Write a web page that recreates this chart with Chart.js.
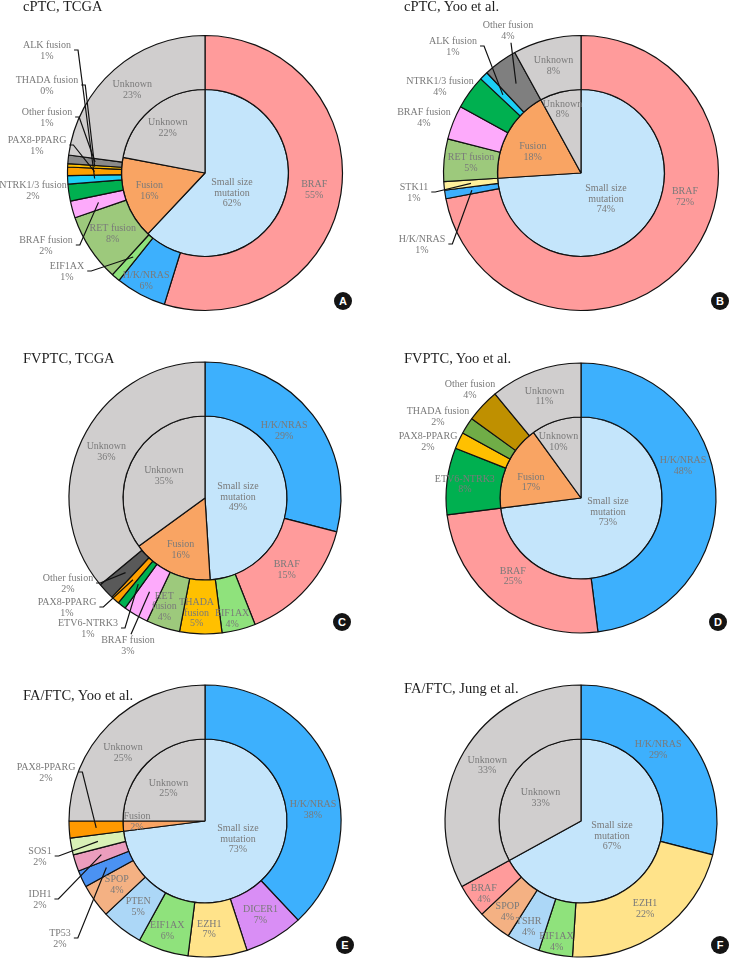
<!DOCTYPE html>
<html>
<head>
<meta charset="utf-8">
<script src="https://cdn.jsdelivr.net/npm/chart.js@4/dist/chart.umd.min.js"></script>
<style>
  body { margin: 0; background: #fff; width: 730px; height: 958px; position: relative; overflow: hidden; font-family: "Liberation Serif", "Times New Roman", serif; }
  canvas { position: absolute; }
  .title { position: absolute; font-size: 14.5px; line-height: 14.5px; color: #1e1e1e; white-space: nowrap; }
  .badge { position: absolute; width: 18px; height: 18px; border-radius: 50%; background: #141414; color: #fff;
           font: bold 11px "Liberation Sans", Arial, sans-serif; text-align: center; line-height: 18px; }
  .probe { position: absolute; left: -100px; top: -100px; font-size: 10px; }
</style>
</head>
<body>
<div class="probe">Unknown 1%</div>
<script>
// ---- data (percent of cases) ----
// A: cPTC, TCGA
const aOuterNames = ["BRAF", "H/K/NRAS", "EIF1AX", "RET fusion", "BRAF fusion", "NTRK1/3 fusion", "ALK fusion", "PAX8-PPARG", "THADA fusion", "Other fusion", "Unknown"];
const aOuterValues = [55, 6, 1, 8, 2, 2, 1, 1, 0.4, 1, 23];
const aInnerNames = ["Small size mutation", "Fusion", "Unknown"];
const aInnerValues = [62, 16, 22];

// B: cPTC, Yoo et al.
const bOuterNames = ["BRAF", "H/K/NRAS", "STK11", "RET fusion", "BRAF fusion", "NTRK1/3 fusion", "ALK fusion", "Other fusion", "Unknown"];
const bOuterValues = [72, 1, 1, 5, 4, 4, 1, 4, 8];
const bInnerNames = ["Small size mutation", "Fusion", "Unknown"];
const bInnerValues = [74, 18, 8];

// C: FVPTC, TCGA
const cOuterNames = ["H/K/NRAS", "BRAF", "EIF1AX", "THADA fusion", "RET fusion", "BRAF fusion", "ETV6-NTRK3", "PAX8-PPARG", "Other fusion", "Unknown"];
const cOuterValues = [29, 15, 4, 5, 4, 3, 1, 1, 2, 36];
const cInnerNames = ["Small size mutation", "Fusion", "Unknown"];
const cInnerValues = [49, 16, 35];

// D: FVPTC, Yoo et al.
const dOuterNames = ["H/K/NRAS", "BRAF", "ETV6-NTRK3", "PAX8-PPARG", "THADA fusion", "Other fusion", "Unknown"];
const dOuterValues = [48, 25, 8, 2, 2, 4, 11];
const dInnerNames = ["Small size mutation", "Fusion", "Unknown"];
const dInnerValues = [73, 17, 10];

// E: FA/FTC, Yoo et al.
const eOuterNames = ["H/K/NRAS", "DICER1", "EZH1", "EIF1AX", "PTEN", "SPOP", "TP53", "IDH1", "SOS1", "PAX8-PPARG", "Unknown"];
const eOuterValues = [38, 7, 7, 6, 5, 4, 2, 2, 2, 2, 25];
const eInnerNames = ["Small size mutation", "Fusion", "Unknown"];
const eInnerValues = [73, 2, 25];

// F: FA/FTC, Jung et al.
const fOuterNames = ["H/K/NRAS", "EZH1", "EIF1AX", "TSHR", "SPOP", "BRAF", "Unknown"];
const fOuterValues = [29, 22, 4, 4, 4, 4, 33];
const fInnerNames = ["Small size mutation", "Unknown"];
const fInnerValues = [67, 33];

// ---- colours ----
const baseColors = {
  "BRAF": "#ff9b9b", "H/K/NRAS": "#3db0fd", "EIF1AX": "#8fe27c", "RET fusion": "#9dc97c",
  "BRAF fusion": "#fdaafb", "NTRK1/3 fusion": "#00b050", "ETV6-NTRK3": "#00b050", "ALK fusion": "#1ccff5",
  "PAX8-PPARG": "#ffa000", "THADA fusion": "#ffc000", "Other fusion": "#7f7f7f", "Unknown": "#d0cece",
  "STK11": "#fff19c", "DICER1": "#d98ef5", "EZH1": "#ffe38a", "PTEN": "#acd7f7", "SPOP": "#f4b183",
  "TP53": "#4b92f2", "IDH1": "#eb9dbd", "SOS1": "#d9f1b6", "TSHR": "#acd7f7",
  "Small size mutation": "#c4e5fb", "Fusion": "#f9a463"
};

// ---- label layout (offsets from pie centre, px) ----
const aOuterLayout = {
  "H/K/NRAS": { nudge: [-7, 10] },
  "EIF1AX": { at: [-138, 99], hook: "right" },
  "BRAF fusion": { at: [-159, 73], hook: "right" },
  "NTRK1/3 fusion": { at: [-172, 18] },
  "ALK fusion": { at: [-158, -122], hook: "right" },
  "PAX8-PPARG": { at: [-168, -27], hook: "right" },
  "THADA fusion": { at: [-158, -87], hook: "right" },
  "Other fusion": { at: [-158, -55], hook: "right" }
};
const aInnerLayout = { "Small size mutation": { at: [27, 20], wrap: true } };

const bOuterLayout = {
  "BRAF": { at: [104, 24] },
  "H/K/NRAS": { at: [-159, 72], hook: "right" },
  "STK11": { at: [-167, 20], hook: "right" },
  "BRAF fusion": { at: [-157, -55] },
  "NTRK1/3 fusion": { at: [-141, -86] },
  "ALK fusion": { at: [-128, -126], hook: "right" },
  "Other fusion": { at: [-73, -142], hook: "bottom" }
};
const bInnerLayout = { "Small size mutation": { at: [25, 26], wrap: true }, "Fusion": { nudge: [3, 7] }, "Unknown": { nudge: [-4, -7] } };

const cOuterLayout = {
  "H/K/NRAS": { nudge: [-7, 0] },
  "EIF1AX": { nudge: [0, 15] },
  "THADA fusion": { nudge: [-5, 6], wrap: true },
  "RET fusion": { nudge: [-7, 5], wrap: true },
  "BRAF fusion": { at: [-77, 148], hook: "top" },
  "ETV6-NTRK3": { at: [-117, 131], hook: "right" },
  "PAX8-PPARG": { at: [-138, 110], hook: "right" },
  "Other fusion": { at: [-137, 86], hook: "right" }
};
const cInnerLayout = { "Small size mutation": { at: [33, -1], wrap: true }, "Unknown": { nudge: [10, 4] } };

const dOuterLayout = {
  "H/K/NRAS": { at: [102, -32] },
  "BRAF": { nudge: [-2, -7] },
  "ETV6-NTRK3": { nudge: [-9, 0] },
  "PAX8-PPARG": { at: [-153, -56] },
  "THADA fusion": { at: [-143, -81] },
  "Other fusion": { at: [-111, -108] }
};
const dInnerLayout = { "Small size mutation": { at: [27, 14], wrap: true }, "Fusion": { nudge: [2, 7] }, "Unknown": { nudge: [-5, -2] } };

const eOuterLayout = {
  "H/K/NRAS": { at: [108, -11] },
  "EZH1": { nudge: [-6, 0] },
  "EIF1AX": { nudge: [-4, 6] },
  "TP53": { at: [-145, 118], hook: "right" },
  "IDH1": { at: [-165, 79], hook: "right" },
  "SOS1": { at: [-165, 36], hook: "right" },
  "PAX8-PPARG": { at: [-159, -48], hook: "right" },
  "Unknown": { nudge: [-5, 9] }
};
const eInnerLayout = { "Small size mutation": { at: [33, 18], wrap: true }, "Fusion": { at: [-68, 1] }, "Unknown": { nudge: [4, 8] } };

const fOuterLayout = {
  "H/K/NRAS": { nudge: [-9, -4] },
  "EIF1AX": { nudge: [-4, 14] },
  "TSHR": { nudge: [-6, 7] },
  "SPOP": { nudge: [-4, 7] },
  "BRAF": { nudge: [-9, 9] }
};
const fInnerLayout = { "Small size mutation": { at: [31, 15], wrap: true }, "Unknown": { nudge: [9, 6] } };

const LABEL_FONT = '10px "Liberation Serif", "Times New Roman", "DejaVu Serif", serif';

// draws the name / percent labels and leader lines for each arc
const sliceLabels = {
  id: "sliceLabels",
  afterDatasetsDraw(chart, args, opts) {
    const ctx = chart.ctx;
    const lh = 10.7;
    ctx.save();
    ctx.font = LABEL_FONT;
    ctx.textAlign = "center";
    ctx.textBaseline = "middle";
    chart.data.datasets.forEach((ds, di) => {
      const meta = chart.getDatasetMeta(di);
      const layout = opts.layouts[di] || {};
      meta.data.forEach((arc, i) => {
        const p = arc.getProps(["x", "y", "startAngle", "endAngle", "innerRadius", "outerRadius"], true);
        const mid = (p.startAngle + p.endAngle) / 2;
        const rr = di === 0 ? (p.innerRadius + p.outerRadius) / 2 : p.outerRadius * 0.7;
        const ax = p.x + Math.cos(mid) * rr;
        const ay = p.y + Math.sin(mid) * rr;
        const name = ds.names[i];
        const spec = layout[name] || {};
        let lines = [name];
        if (spec.wrap) {
          const k = name.lastIndexOf(" ");
          lines = [name.slice(0, k), name.slice(k + 1)];
        }
        lines.push(Math.round(ds.data[i]) + "%");
        let tx = ax, ty = ay;
        if (spec.at) { tx = p.x + spec.at[0]; ty = p.y + spec.at[1]; }
        if (spec.nudge) { tx += spec.nudge[0]; ty += spec.nudge[1]; }
        const n = lines.length;
        if (spec.hook) {
          const w = Math.max(...lines.map(s => ctx.measureText(s).width));
          ctx.strokeStyle = "#111";
          ctx.lineWidth = 1.2;
          ctx.beginPath();
          if (spec.hook === "right") {
            const sx = tx + w / 2 + 3, sy = ty - 1;
            ctx.moveTo(sx, sy);
            ctx.lineTo(sx + 4, sy);
          } else if (spec.hook === "bottom") {
            ctx.moveTo(tx + 3, ty + n * lh / 2 + 1);
          } else {
            ctx.moveTo(tx + 3, ty - n * lh / 2 - 1);
          }
          ctx.lineTo(ax, ay);
          ctx.stroke();
        }
        ctx.fillStyle = "#7a7a7a";
        lines.forEach((s, k) => ctx.fillText(s, tx, ty + (k - (n - 1) / 2) * lh));
      });
    });
    ctx.restore();
  }
};

function colorsFor(names, overrides) {
  return names.map(n => (overrides && overrides[n]) || baseColors[n]);
}

function makePanel(p) {
  const cv = document.createElement("canvas");
  cv.width = p.w;
  cv.height = p.h;
  cv.style.left = p.left + "px";
  cv.style.top = p.top + "px";
  document.body.appendChild(cv);

  const ox = p.cx - p.left, oy = p.cy - p.top;
  const s = Math.min(ox, p.w - ox, oy, p.h - oy);

  new Chart(cv.getContext("2d"), {
    type: "doughnut",
    data: {
      datasets: [
        { data: p.outer, names: p.outerNames, backgroundColor: colorsFor(p.outerNames, p.overrides),
          borderColor: "#111", borderWidth: 1.2, weight: p.R - p.r },
        { data: p.inner, names: p.innerNames, backgroundColor: colorsFor(p.innerNames, p.overrides),
          borderColor: "#111", borderWidth: 1.2, weight: p.r }
      ]
    },
    options: {
      responsive: false,
      animation: false,
      radius: p.R,
      cutout: 0,
      layout: { padding: { left: ox - s, right: p.w - ox - s, top: oy - s, bottom: p.h - oy - s } },
      plugins: {
        legend: { display: false },
        tooltip: { enabled: false },
        sliceLabels: { layouts: [p.outerLayout, p.innerLayout] }
      }
    },
    plugins: [sliceLabels]
  });

  const t = document.createElement("div");
  t.className = "title";
  t.textContent = p.title;
  t.style.left = p.titleX + "px";
  t.style.top = (p.titleY - 12) + "px";
  document.body.appendChild(t);

  const b = document.createElement("div");
  b.className = "badge";
  b.textContent = p.badge;
  b.style.left = (p.badgeX - 9) + "px";
  b.style.top = (p.badgeY - 9) + "px";
  document.body.appendChild(b);
}

function drawAll() {
  makePanel({ title: "cPTC, TCGA", titleX: 23, titleY: 11, badge: "A", badgeX: 343, badgeY: 301,
    left: 0, top: 0, w: 365, h: 330, cx: 205, cy: 173, R: 137.5, r: 83.5,
    outerNames: aOuterNames, outer: aOuterValues, innerNames: aInnerNames, inner: aInnerValues,
    outerLayout: aOuterLayout, innerLayout: aInnerLayout, overrides: { "Other fusion": "#8a8a8a" } });

  makePanel({ title: "cPTC, Yoo et al.", titleX: 404, titleY: 11, badge: "B", badgeX: 720, badgeY: 301,
    left: 365, top: 0, w: 365, h: 330, cx: 581, cy: 173, R: 137.5, r: 83.5,
    outerNames: bOuterNames, outer: bOuterValues, innerNames: bInnerNames, inner: bInnerValues,
    outerLayout: bOuterLayout, innerLayout: bInnerLayout });

  makePanel({ title: "FVPTC, TCGA", titleX: 23, titleY: 363, badge: "C", badgeX: 342, badgeY: 622,
    left: 0, top: 310, w: 365, h: 350, cx: 205, cy: 498, R: 136, r: 82,
    outerNames: cOuterNames, outer: cOuterValues, innerNames: cInnerNames, inner: cInnerValues,
    outerLayout: cOuterLayout, innerLayout: cInnerLayout, overrides: { "Other fusion": "#595959" } });

  makePanel({ title: "FVPTC, Yoo et al.", titleX: 404, titleY: 363, badge: "D", badgeX: 718, badgeY: 622,
    left: 365, top: 310, w: 365, h: 350, cx: 581, cy: 498, R: 135, r: 81,
    outerNames: dOuterNames, outer: dOuterValues, innerNames: dInnerNames, inner: dInnerValues,
    outerLayout: dOuterLayout, innerLayout: dInnerLayout,
    overrides: { "PAX8-PPARG": "#ffc000", "THADA fusion": "#70ad47", "Other fusion": "#bf9000" } });

  makePanel({ title: "FA/FTC, Yoo et al.", titleX: 23, titleY: 700, badge: "E", badgeX: 345, badgeY: 945,
    left: 0, top: 630, w: 365, h: 328, cx: 205, cy: 821, R: 136, r: 82,
    outerNames: eOuterNames, outer: eOuterValues, innerNames: eInnerNames, inner: eInnerValues,
    outerLayout: eOuterLayout, innerLayout: eInnerLayout, overrides: { "PAX8-PPARG": "#ff9900" } });

  makePanel({ title: "FA/FTC, Jung et al.", titleX: 404, titleY: 693, badge: "F", badgeX: 720, badgeY: 945,
    left: 365, top: 630, w: 365, h: 328, cx: 581, cy: 821, R: 136, r: 82,
    outerNames: fOuterNames, outer: fOuterValues, innerNames: fInnerNames, inner: fInnerValues,
    outerLayout: fOuterLayout, innerLayout: fInnerLayout });
}

if (document.fonts && document.fonts.load) {
  document.fonts.load(LABEL_FONT).then(drawAll, drawAll);
} else {
  drawAll();
}
</script>
</body>
</html>
